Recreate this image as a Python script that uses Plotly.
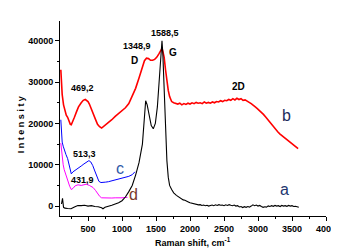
import plotly.graph_objects as go

# ---- data ----
a_x = [110, 125, 140, 160, 200, 250, 300, 350, 400, 450, 500, 550, 600, 650, 700, 720, 750, 800, 850, 900, 950,
       1000, 1050, 1100, 1150, 1200, 1250, 1300, 1330, 1348, 1370, 1400, 1430, 1460, 1490, 1520, 1550, 1570, 1588,
       1600, 1620, 1640, 1660, 1680, 1700, 1730, 1760,
       1800, 1825, 1850, 1875, 1900, 1925, 1950, 1975, 2000, 2025, 2050, 2075, 2100, 2125, 2150, 2175, 2200, 2225,
       2250, 2275, 2300, 2325, 2350, 2375, 2400, 2425, 2450, 2475, 2500, 2525, 2550, 2575, 2600, 2625, 2650, 2675,
       2700, 2725, 2750, 2775, 2800, 2825, 2850, 2875, 2900, 2925, 2950, 2975, 3000, 3025, 3050, 3075, 3100, 3125,
       3150, 3175, 3200, 3225, 3250, 3275, 3300, 3325, 3350, 3375, 3400, 3425, 3450, 3475, 3500, 3525, 3550, 3575,
       3600]
a_y = [500, 1900, -300, -500, -600, -650, -200, 150, 100, 200, 0, 100, -100, -150, -400, -650, -300, -100, 200, 500,
       800, 1300, 2200, 3500, 5000, 7500, 10500, 15000, 21000, 25500, 24500, 22000, 19500, 18700, 20000, 24000, 31000,
       36000, 40000, 37000, 28000, 19000, 11000, 7000, 5000, 4000, 3200,
       2600, 2300, 2000, 1800, 1500, 1400, 1100, 1000, 800, 700, 600, 450, 500, 300, 350, 150, 250, 100,
       200, 0, 150, 250, 100, 300, 150, 350, 200, 250, 100, 300, 150, 350, 200, 100, 250, 0,
       100, -200, -100, -350, -150, -300, -100, -250, 0, 300, 100, 250, 0, 150, -100, -300, -150, -250,
       50, -100, 100, -50, 150, 0, 100, -100, 150, 0, 100, -50, 150, 0, 100, -100, -50, -250,
       -300]

b_x = [100, 110, 120, 140, 160, 180, 200, 220, 240, 254, 270, 300, 330, 360, 400, 430, 460, 480, 500, 520, 550, 580,
       610, 640, 670, 700, 730, 760, 800, 850, 900, 950, 1000, 1050, 1100, 1150, 1200, 1250, 1300, 1330, 1360, 1390,
       1420, 1450, 1480, 1510, 1540, 1565, 1588, 1600, 1620, 1640, 1660, 1680, 1700, 1730,
       1760, 1790, 1820, 1850, 1880, 1910, 1940, 1970, 2000, 2030, 2060, 2090, 2120, 2150, 2180, 2210, 2240, 2270,
       2300, 2330, 2360, 2390, 2420, 2450, 2480, 2510, 2540, 2570, 2600, 2630, 2660, 2690, 2720, 2750, 2780, 2810,
       2840, 2870, 2900, 2930, 2960, 2990, 3020, 3050, 3080, 3110, 3140, 3170, 3200, 3230, 3260, 3290, 3320, 3350,
       3380, 3410, 3440, 3470, 3500, 3530, 3560, 3590]
b_y = [33000, 29500, 27000, 24500, 23000, 22000, 21500, 20500, 19800, 19700, 20500, 21500, 22800, 24000, 25000,
       25600, 25800, 25500, 25300, 24700, 23600, 22300, 21000, 19800, 19200, 18900, 19300, 19600, 20300, 20900,
       21700, 22400, 23000, 23800, 24800, 26500, 28500, 31000, 33500, 35200, 35800, 35700, 35300, 35300, 35500,
       36000, 36800, 37500, 38200, 37500, 36000, 33000, 30000, 28000, 26500, 25300,
       25000, 24800, 24700, 24900, 24500, 24800, 24600, 24900, 24700, 25000, 24800, 25100, 24900, 25000, 24800,
       25200, 24900, 25100, 24900, 25200, 25000, 25300, 25200, 25500, 25300, 25600, 25500, 25800, 25600, 26000,
       25700, 26100, 25800, 26000, 25600, 25700, 25300, 25100, 24800, 24300, 24000, 23600, 23200, 22800, 22200,
       21600, 21000, 20300, 19600, 19000, 18600, 18000, 17500, 17100, 16600, 16200, 15700, 15300, 14900, 14600,
       14200, 13900]

c_x = [100, 110, 120, 135, 150, 175, 200, 230, 254, 280, 320, 360, 400, 440, 480, 513, 540, 570, 600, 630, 660, 690,
       720, 760, 800, 850, 900, 950, 1000, 1050, 1100, 1150, 1180, 1190]
c_y = [20900, 18000, 15500, 14500, 13500, 12500, 11500, 9500, 7800, 8300, 8700, 9200, 9700, 10200, 10700, 11000,
       10700, 9800, 8500, 7000, 6000, 5700, 5700, 5800, 5900, 6100, 6300, 6500, 6800, 7000, 7200, 7600, 8000, 8300]

d_x = [100, 110, 120, 135, 150, 175, 200, 230, 254, 280, 310, 353, 400, 440, 475, 520, 574, 610, 640, 672, 700, 745,
       800, 850, 900, 950, 1000, 1050, 1080]
d_y = [15250, 13500, 11800, 10000, 8800, 7500, 6200, 4800, 4000, 4300, 4900, 5150, 5000, 5200, 5300, 5000, 4500,
       3800, 3000, 2350, 2000, 1950, 1900, 1950, 2000, 1950, 2000, 2100, 2100]

x_ticks = [500, 1000, 1500, 2000, 2500, 3000, 3500, 4000]
y_ticks = [0, 10000, 20000, 30000, 40000]

peak_labels = ["469,2", "513,3", "431,9", "1348,9", "1588,5"]
peak_x = [426, 441, 426, 1225, 1628]
peak_y = [28570, 12660, 6360, 38670, 41890]

band_labels = ["D", "G", "2D"]
band_x = [1187, 1750, 2716]
band_y = [35280, 37290, 28980]

curve_labels = ["a", "b", "c", "d"]
curve_lx = [3393, 3416, 975, 1172]
curve_ly = [4120, 21960, 9200, 2740]
curve_lcolors = ["#1d3570", "#1d2d5c", "#2f5aa8", "#7a3a2a"]

fig = go.Figure()
fig.add_trace(go.Scatter(x=d_x, y=d_y, mode="lines", line=dict(color="#ff00ff", width=1)))
fig.add_trace(go.Scatter(x=c_x, y=c_y, mode="lines", line=dict(color="#0000ff", width=1)))
fig.add_trace(go.Scatter(x=b_x, y=b_y, mode="lines", line=dict(color="#ff0000", width=1.6)))
fig.add_trace(go.Scatter(x=a_x, y=a_y, mode="lines", line=dict(color="#000000", width=1.1)))

bold = dict(family="Arial, Liberation Sans", size=9, color="black", weight="bold")
for t, x, y in zip(peak_labels, peak_x, peak_y):
    fig.add_annotation(x=x, y=y, text=t, showarrow=False, font=bold)
for t, x, y in zip(band_labels, band_x, band_y):
    fig.add_annotation(x=x, y=y, text=t, showarrow=False, font=dict(bold, size=10))
for t, x, y, c in zip(curve_labels, curve_lx, curve_ly, curve_lcolors):
    fig.add_annotation(x=x, y=y, text=t, showarrow=False,
                       font=dict(family="Arial, Liberation Sans", size=16, color=c))

fig.add_annotation(xref="paper", yref="paper", x=-0.17, y=0.47, text="I n t e n s i t y", showarrow=False,
                   textangle=-90, font=dict(bold, size=9))
fig.add_annotation(xref="paper", yref="paper", x=0.5, y=-0.135, yanchor="middle",
                   text="Raman shift, cm<sup>-1</sup>", showarrow=False, font=bold)

axis_common = dict(showline=True, linecolor="black", linewidth=1, ticks="outside", ticklen=4, tickwidth=1,
                   tickcolor="black", showgrid=False, zeroline=False, tickfont=bold, mirror=False)
fig.update_xaxes(range=[88, 4000], tickvals=x_ticks, ticktext=[str(v) for v in x_ticks],
                 minor=dict(ticks="outside", ticklen=2, dtick=250, tick0=0, tickcolor="black"), **axis_common)
fig.update_yaxes(range=[-2400, 44800], tickvals=y_ticks, ticktext=[str(v) for v in y_ticks],
                 minor=dict(ticks="outside", ticklen=2, dtick=5000, tick0=0, tickcolor="black"), **axis_common)

fig.update_layout(width=339, height=249, margin=dict(l=52, r=21, t=13, b=41), showlegend=False,
                  plot_bgcolor="white", paper_bgcolor="white")
fig.write_html("out.html")
